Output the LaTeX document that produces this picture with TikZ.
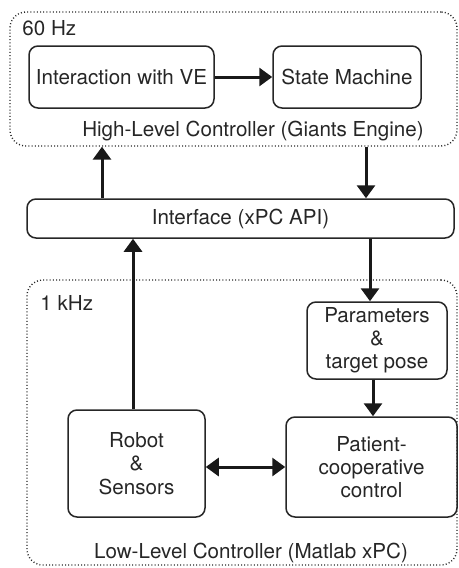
\documentclass[tikz,border=0pt]{standalone}
\usepackage{fontspec}
\setmainfont{TeX Gyre Heros}
\usetikzlibrary{arrows.meta}
\begin{document}
\begin{tikzpicture}[x=0.5pt,y=-0.5pt,
  every node/.style={font=\fontsize{10.3pt}{11.6pt}\selectfont, text=black!85, inner sep=0pt},
  blk/.style={draw=black!85, line width=0.75pt, rounded corners=4.5pt, align=center},
  grp/.style={draw=black!85, line width=0.7pt, dash pattern=on 0.5pt off 1.1pt, rounded corners=8pt},
  arr/.style={line width=1.5pt, draw=black!90, -{Triangle[length=6.5pt,width=9pt]}},
  darr/.style={line width=1.5pt, draw=black!90, {Triangle[length=6.5pt,width=9pt]}-{Triangle[length=6.5pt,width=9pt]}}]
\useasboundingbox (0,0) rectangle (459,568);
% group boxes
\node[grp, minimum width=223.5pt, minimum height=67pt] (hl) at (233.5,79) {};
\node[grp, minimum width=215pt, minimum height=142.5pt] (ll) at (242,422.5) {};
% labels
\node[anchor=west] (hz60) at (22,28) {60 Hz};
\node (hltxt) at (253,131) {High-Level Controller (Giants Engine)};
\node[anchor=west] (khz) at (40,303) {1 kHz};
\node (lltxt) at (251,553) {Low-Level Controller (Matlab xPC)};
% blocks
\node[blk, minimum width=92.5pt, minimum height=31pt] (inter) at (121.5,77) {Interaction with VE};
\node[blk, minimum width=74pt, minimum height=31pt] (state) at (347,77) {State Machine};
\node[blk, minimum width=213.5pt, minimum height=19.5pt] (iface) at (240.5,218.5) {Interface (xPC API)};
\node[blk, minimum width=70pt, minimum height=38.5pt] (param) at (377,340.5) {Parameters\\\&\\target pose};
\node[blk, minimum width=68.5pt, minimum height=53.5pt] (robot) at (136.5,463.5) {Robot\\\&\\Sensors};
\node[blk, minimum width=85.5pt, minimum height=50pt] (pat) at (371.5,467) {Patient-\\cooperative\\control};
% connector coordinates
\coordinate (c1) at (102,0);
\coordinate (c2) at (366,0);
\coordinate (c3) at (133,0);
\coordinate (c4) at (370,0);
\coordinate (c5) at (373,0);
% connectors
\draw[arr] (inter) -- (state);
\draw[arr] (c1 |- iface.north) -- (c1 |- hl.south);
\draw[arr] (c2 |- hl.south) -- (c2 |- iface.north);
\draw[arr] (c3 |- robot.north) -- (c3 |- iface.south);
\draw[arr] (c4 |- iface.south) -- (c4 |- param.north);
\draw[arr] (c5 |- param.south) -- (c5 |- pat.north);
\draw[darr] (robot.east |- 0,467) -- (pat.west);
\end{tikzpicture}
\end{document}
